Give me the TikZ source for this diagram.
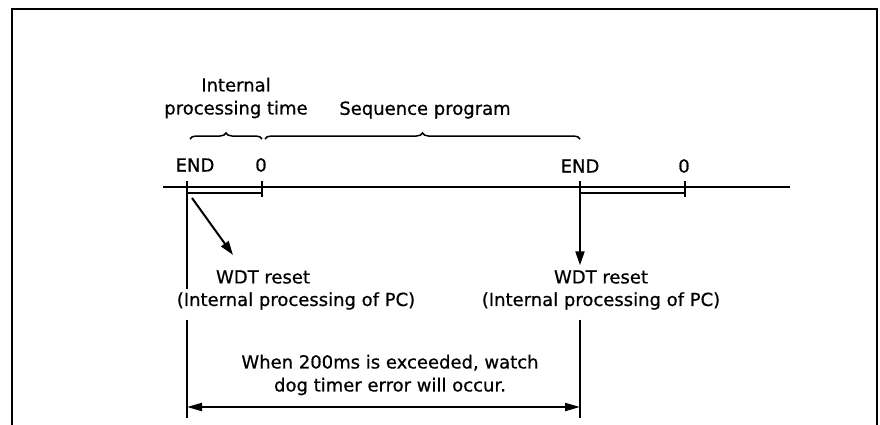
\documentclass[tikz,border=0pt]{standalone}
\usepackage{fontspec}
\setmainfont{DejaVu Sans}
\newfontfamily\lblfont{DejaVu Sans}[FakeBold=0.7]
\usetikzlibrary{arrows.meta,decorations.pathreplacing,positioning}

\begin{document}
\begin{tikzpicture}[
    x=1pt, y=-1pt,
    line width=2pt,
    lbl/.style={font=\lblfont\fontsize{18}{23}\selectfont, inner sep=0pt, align=center},
    bar/.style={line width=1.5pt},
    brc/.style={decorate, decoration={brace, amplitude=6pt}, line width=1.5pt},
    arr/.style={-{Triangle[length=14pt, width=9pt]}},
    dimarr/.style={{Triangle[length=15pt, width=8pt]}-{Triangle[length=15pt, width=8pt]}}
]
\useasboundingbox (0,0) rectangle (880,425);

% --- frame (open at the bottom) ---
\draw[line width=2.5pt] (12,425) -- (12,9) -- (877,9) -- (877,425);

% --- time axis ---
\coordinate (axisL) at (163,187);
\coordinate (axisR) at (790,187);
\coordinate (end1) at (187,187);
\coordinate (zero1) at (262,187);
\coordinate (end2) at (580,187);
\coordinate (zero2) at (685,187);

\draw (axisL) -- (axisR);
\foreach \t in {end1,zero1,end2,zero2}
    \draw ([yshift=6pt]\t) -- ([yshift=-10pt]\t);
\draw[bar] ([yshift=-6pt]end1) -- ([yshift=-6pt]zero1);
\draw[bar] ([yshift=-6pt]end2) -- ([yshift=-6pt]zero2);

% --- axis labels ---
\node[lbl] (endA) at (195,165) {END};
\node[lbl] (zeroA) at (261,165) {0};
\node[lbl] (endB) at (580,166) {END};
\node[lbl] (zeroB) at (684,166) {0};

% --- braces ---
\coordinate (brA1) at (190,139);
\coordinate (brA2) at (262,139);
\coordinate (brB1) at (265,139);
\coordinate (brB2) at (580,139);
\draw[brc] (brA1) -- (brA2);
\draw[brc] (brB1) -- (brB2);
\node[lbl] (intproc) at (236,98) {Internal\\processing time};
\node[lbl] (seqprog) at (425,110) {Sequence program};

% --- WDT reset texts ---
\node[lbl] (wdtA) at (263,277) {WDT reset};
\node[lbl] (ipA) at (296,301) {(Internal processing of PC)};
\node[lbl] (wdtB) at (601,277) {WDT reset};
\node[lbl] (ipB) at (601,301) {(Internal processing of PC)};

% --- arrows to the resets ---
\coordinate (diagS) at (192,198);
\coordinate (diagE) at (233,255);
\draw[arr] (diagS) -- (diagE);
\draw[arr] ([yshift=-8pt]end2) -- ([yshift=4pt]wdtB.north -| end2);

% --- vertical guide lines ---
\coordinate (botA) at (187,418);
\coordinate (botB) at (580,418);
\draw (end1) -- ([yshift=2pt]ipA.north -| end1);
\draw ([yshift=-9pt]ipA.south -| end1) -- (botA);
\draw ([yshift=-9pt]ipB.south -| end2) -- (botB);

% --- 200ms span ---
\coordinate (dimA) at (187,407);
\coordinate (dimB) at (580,407);
\draw[dimarr] (dimA) -- (dimB);
\node[lbl] (wdtmsg) at (390,375) {When 200ms is exceeded, watch\\dog timer error will occur.};

\end{tikzpicture}
\end{document}
